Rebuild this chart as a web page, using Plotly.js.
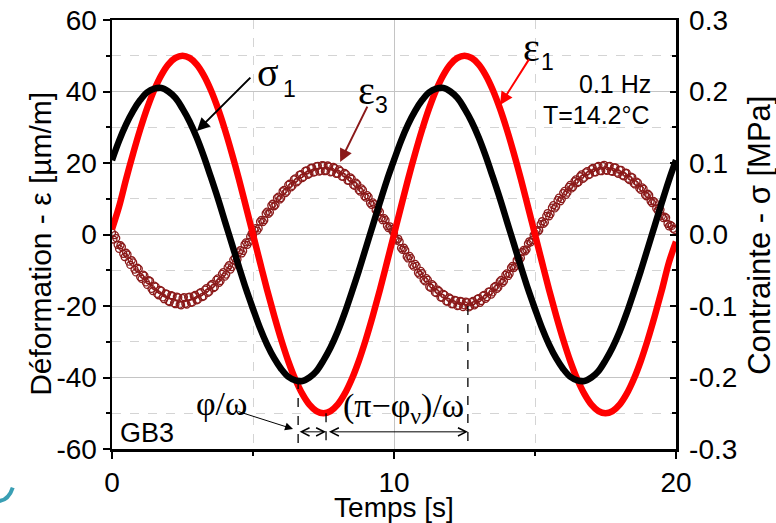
<!DOCTYPE html>
<html>
<head>
<meta charset="utf-8">
<script src="https://cdn.plot.ly/plotly-3.0.1.min.js"></script>
<style>
html,body{margin:0;padding:0;background:#fff;}
#chart{width:776px;height:523px;}
</style>
</head>
<body>
<div id="chart"></div>
<script>
// ---------- data ----------
// time sampling (s)
const LINE_T0 = 0, LINE_DT = 0.25;     // sigma1 and eps1 samples
const E3A_T0 = 0, E3B_T0 = 0.05, E3_DT = 0.1;   // eps3 samples (two interleaved sets)

// eps1 (µm/m), left axis
const eps1 = [1.5, 7.8, 15.5, 22.7, 29.4, 35.4, 40.5, 44.6, 47.6, 49.4, 50.0,
  49.4, 47.6, 44.6, 40.5, 35.4, 29.4, 22.7, 15.5, 7.8, 0.0,
  -7.8, -15.5, -22.7, -29.4, -35.4, -40.5, -44.6, -47.6, -49.4, -50.0,
  -49.4, -47.6, -44.6, -40.5, -35.4, -29.4, -22.7, -15.5, -7.8, 0.0,
  7.8, 15.5, 22.7, 29.4, 35.4, 40.5, 44.6, 47.6, 49.4, 50.0,
  49.4, 47.6, 44.6, 40.5, 35.4, 29.4, 22.7, 15.5, 7.8, 0.0,
  -7.8, -15.5, -22.7, -29.4, -35.4, -40.5, -44.6, -47.6, -49.4, -50.0,
  -49.4, -47.6, -44.6, -40.5, -35.4, -29.4, -22.7, -15.5, -7.8, -2.0];

// sigma1 (MPa), right axis
const sigma1 = [0.104, 0.131, 0.154, 0.173, 0.188, 0.199, 0.204, 0.205, 0.200, 0.191,
  0.176, 0.158, 0.136, 0.110, 0.081, 0.051, 0.019, -0.013, -0.045, -0.076,
  -0.104, -0.131, -0.154, -0.173, -0.188, -0.199, -0.204, -0.205, -0.200, -0.191,
  -0.176, -0.158, -0.136, -0.110, -0.081, -0.051, -0.019, 0.013, 0.045, 0.076,
  0.104, 0.131, 0.154, 0.173, 0.188, 0.199, 0.204, 0.205, 0.200, 0.191,
  0.176, 0.158, 0.136, 0.110, 0.081, 0.051, 0.019, -0.013, -0.045, -0.076,
  -0.104, -0.131, -0.154, -0.173, -0.188, -0.199, -0.204, -0.205, -0.200, -0.191,
  -0.176, -0.158, -0.136, -0.110, -0.081, -0.051, -0.019, 0.013, 0.045, 0.076,
  0.104];

// eps3 (µm/m), left axis, samples at 0.0, 0.1, ... s
const eps3a = [0.5, -0.2, -2.9, -3.0, -5.4, -5.1, -7.6, -7.2, -9.8, -9.3,
  -11.9, -11.2, -13.4, -12.8, -15.2, -14.3, -16.6, -15.5, -17.6, -16.5,
  -18.7, -17.0, -19.2, -17.4, -19.6, -17.8, -19.4, -17.5, -19.1, -17.2,
  -18.4, -16.4, -17.5, -15.4, -16.3, -14.2, -15.0, -12.7, -13.5, -11.0,
  -11.8, -9.2, -9.8, -7.1, -7.5, -5.0, -5.3, -2.8, -2.9, -0.6,
  -0.3, 1.8, 1.7, 4.1, 4.0, 6.4, 6.2, 8.6, 8.3, 10.6,
  10.2, 12.5, 12.0, 14.2, 13.6, 15.7, 15.0, 16.9, 16.1, 17.9,
  17.0, 18.7, 17.5, 19.2, 17.8, 19.3, 17.9, 19.0, 17.5, 18.6,
  17.0, 17.8, 16.1, 16.9, 15.0, 15.6, 13.6, 14.1, 12.0, 12.4,
  10.3, 10.5, 8.3, 8.5, 6.2, 6.3, 4.0, 4.0, 1.8, 1.6,
  0.4, -1.7, -2.0, -4.3, -4.4, -6.7, -6.6, -9.0, -8.8, -11.2,
  -10.8, -13.1, -12.7, -14.9, -14.3, -16.4, -15.8, -17.7, -16.9, -18.8,
  -17.9, -19.5, -18.4, -19.9, -18.7, -19.8, -19.0, -20.1, -18.6, -19.4,
  -17.8, -18.6, -16.9, -17.5, -15.9, -16.2, -14.4, -14.8, -12.7, -13.0,
  -10.9, -11.0, -8.8, -8.9, -6.6, -6.6, -4.3, -4.2, -1.9, -1.6,
  0.3, 0.8, 2.9, 3.0, 5.2, 5.1, 7.5, 7.3, 9.6, 9.3,
  11.6, 11.1, 13.3, 12.9, 14.9, 14.4, 16.3, 15.6, 17.4, 16.6,
  18.3, 17.4, 18.9, 17.8, 19.2, 18.0, 19.1, 17.7, 18.8, 17.3,
  18.1, 16.5, 17.3, 15.6, 16.2, 14.3, 14.8, 12.9, 13.2, 11.1,
  11.4, 9.3, 9.4, 7.3, 7.3, 5.2, 5.0, 3.0, 2.7, 1.6];

// eps3 (µm/m), samples at 0.05, 0.15, ... s
const eps3b = [-1.4, -1.0, -4.0, -3.5, -6.3, -5.6, -8.5, -7.8, -10.6, -9.6,
  -12.4, -11.5, -14.1, -13.0, -15.8, -14.6, -17.0, -15.7, -18.1, -16.6,
  -18.9, -17.2, -19.5, -17.6, -19.8, -17.5, -19.6, -17.4, -19.0, -16.9,
  -18.2, -16.1, -17.3, -15.0, -16.0, -13.8, -14.7, -12.3, -13.0, -10.5,
  -11.2, -8.6, -9.1, -6.6, -7.0, -4.4, -4.6, -2.2, -2.1, 0.2,
  1.3, 1.1, 3.6, 3.5, 5.9, 5.8, 8.1, 7.9, 10.2, 9.8,
  12.1, 11.6, 13.9, 13.2, 15.4, 14.6, 16.7, 15.8, 17.8, 16.7,
  18.6, 17.3, 19.1, 17.6, 19.4, 17.7, 19.3, 17.4, 18.9, 17.0,
  18.2, 16.2, 17.2, 15.1, 16.0, 13.9, 14.5, 12.4, 12.9, 10.7,
  11.0, 8.8, 9.0, 6.8, 6.9, 4.6, 4.6, 2.4, 2.3, 0.9,
  -1.3, -1.2, -3.8, -3.7, -6.2, -6.0, -8.5, -8.2, -10.7, -10.2,
  -12.7, -12.2, -14.6, -13.9, -16.2, -15.4, -17.6, -16.6, -18.7, -17.6,
  -19.5, -18.3, -20.0, -18.6, -20.3, -18.8, -20.4, -18.9, -19.8, -18.0,
  -19.1, -17.1, -18.0, -16.0, -16.8, -14.7, -15.2, -13.1, -13.5, -11.3,
  -11.6, -9.3, -9.4, -7.2, -7.1, -4.9, -4.7, -2.6, -2.2, -0.2,
  1.2, 1.2, 3.7, 3.4, 6.0, 5.7, 8.2, 7.8, 10.3, 9.9,
  12.2, 11.7, 13.9, 13.3, 15.4, 14.7, 16.8, 15.9, 17.7, 16.8,
  18.6, 17.4, 19.2, 17.7, 19.5, 17.8, 19.2, 17.5, 18.8, 17.0,
  18.1, 16.3, 17.2, 15.2, 16.0, 14.0, 14.5, 12.5, 12.8, 10.7,
  11.0, 8.8, 9.0, 6.7, 6.9, 4.6, 4.7, 2.3, 2.4, 1.3];

// tick labels
const xTickVals = [0, 10, 20];
const xTickText = ['0', '10', '20'];
const yTickVals = [-60, -40, -20, 0, 20, 40, 60];
const yTickText = ['-60', '-40', '-20', '0', '20', '40', '60'];
const y2TickVals = [-0.3, -0.2, -0.1, 0, 0.1, 0.2, 0.3];
const y2TickText = ['-0.3', '-0.2', '-0.1', '0.0', '0.1', '0.2', '0.3'];

// axis titles
const xTitle = 'Temps [s]';
const yTitle = 'Déformation - ε [µm/m]';
const y2Title = 'Contrainte - σ [MPa]';

// phase markers (s): sigma1 min, eps1 min, eps3 min, with the curve values there
const tSigmaMin = 6.6, tEps1Min = 7.59, tEps3Min = 12.62;
const vSigmaMin = -40.7, vEps1Min = -50, vEps3Min = -20;

// ---------- drawing ----------
const SANS = 'Liberation Sans, Arial, sans-serif';
const SERIF = 'Liberation Serif, Times New Roman, serif';
const DARKRED = '#8b1a1a';
const e3Marker = {symbol: 'circle-open', size: 7, color: DARKRED, line: {width: 1.3, color: DARKRED}};

const traces = [
  {type: 'scatter', mode: 'markers', name: 'ε3', x0: E3A_T0, dx: E3_DT, y: eps3a, marker: e3Marker, xaxis: 'x', yaxis: 'y'},
  {type: 'scatter', mode: 'markers', name: 'ε3', x0: E3B_T0, dx: E3_DT, y: eps3b, marker: e3Marker, xaxis: 'x', yaxis: 'y'},
  {type: 'scatter', mode: 'lines', name: 'σ1', x0: LINE_T0, dx: LINE_DT, y: sigma1,
   line: {color: '#000', width: 6.5, shape: 'spline'}, xaxis: 'x', yaxis: 'y2'},
  {type: 'scatter', mode: 'lines', name: 'ε1', x0: LINE_T0, dx: LINE_DT, y: eps1,
   line: {color: '#ff0000', width: 6.5, shape: 'spline'}, xaxis: 'x', yaxis: 'y'}
];

const gridMinor = {showgrid: true, griddash: 'dash', gridcolor: '#d4d4d4', gridwidth: 1};

const layout = {
  width: 776, height: 523,
  margin: {l: 112, r: 100, t: 20, b: 74},
  paper_bgcolor: '#fff', plot_bgcolor: '#fff',
  showlegend: false,
  font: {family: SANS, color: '#000', size: 28},
  xaxis: {
    range: [0, 20], tickmode: 'array', tickvals: xTickVals, ticktext: xTickText,
    ticks: 'outside', ticklen: 7, tickwidth: 2, tickcolor: '#000',
    showline: true, linecolor: '#000', linewidth: 2.5, mirror: true,
    showgrid: true, gridcolor: '#c4c4c4', gridwidth: 1, zeroline: false,
    tickfont: {size: 28, family: SANS},
    minor: Object.assign({tickmode: 'linear', tick0: 0, dtick: 5, ticks: 'outside', ticklen: 4, tickwidth: 2, tickcolor: '#000'}, gridMinor),
    title: {text: xTitle, font: {size: 28, family: SANS}, standoff: 0},
    automargin: false
  },
  yaxis: {
    range: [-60, 60], tickmode: 'array', tickvals: yTickVals, ticktext: yTickText,
    ticks: 'outside', ticklen: 7, tickwidth: 2, tickcolor: '#000',
    showline: true, linecolor: '#000', linewidth: 2.5,
    showgrid: true, gridcolor: '#c4c4c4', gridwidth: 1, zeroline: false,
    tickfont: {size: 28, family: SANS},
    minor: Object.assign({tickmode: 'linear', tick0: 0, dtick: 10, ticks: 'outside', ticklen: 4, tickwidth: 2, tickcolor: '#000'}, gridMinor),
    automargin: false
  },
  yaxis2: {
    overlaying: 'y', side: 'right',
    range: [-0.3, 0.3], tickmode: 'array', tickvals: y2TickVals, ticktext: y2TickText,
    ticks: 'inside', ticklen: 6, tickwidth: 2, tickcolor: '#000',
    showline: true, linecolor: '#000', linewidth: 2.5,
    showgrid: false, zeroline: false,
    tickfont: {size: 28, family: SANS},
    ticklabelstandoff: 5,
    minor: {tickmode: 'linear', tick0: 0, dtick: 0.05, ticks: 'inside', ticklen: 4, tickwidth: 2, tickcolor: '#000', showgrid: false},
    automargin: false
  },
  shapes: [
    {type: 'line', xref: 'x', yref: 'y', x0: tSigmaMin, x1: tSigmaMin, y0: vSigmaMin, y1: -60, line: {color: '#000', width: 1.3, dash: 'dash'}},
    {type: 'line', xref: 'x', yref: 'y', x0: tEps1Min, x1: tEps1Min, y0: vEps1Min, y1: -60, line: {color: '#000', width: 1.3, dash: 'dash'}},
    {type: 'line', xref: 'x', yref: 'y', x0: tEps3Min, x1: tEps3Min, y0: vEps3Min, y1: -60, line: {color: '#000', width: 1.3, dash: 'dash'}},
    // teal slide decoration at the bottom-left corner
    {type: 'path', xref: 'paper', yref: 'paper', path: 'M -0.199,-0.121 Q -0.183,-0.118 -0.176,-0.090',
     line: {color: '#3a9fb4', width: 4}}
  ],
  annotations: [
    // y axis titles
    {xref: 'paper', yref: 'paper', x: -0.126, y: 0.478, textangle: -90, text: yTitle, showarrow: false,
     xanchor: 'center', yanchor: 'middle', font: {family: SANS, size: 30, color: '#000'}},
    {xref: 'paper', yref: 'paper', x: 1.149, y: 0.497, textangle: -90, text: y2Title, showarrow: false,
     xanchor: 'center', yanchor: 'middle', font: {family: SANS, size: 31, color: '#000'}},
    // series labels
    {x: 5.53, y: 45.2, xref: 'x', yref: 'y', text: 'σ', showarrow: false, font: {family: SERIF, size: 40, color: '#000'}},
    {x: 6.31, y: 40.7, xref: 'x', yref: 'y', text: '1', showarrow: false, font: {family: SANS, size: 23, color: '#000'}},
    {x: 9.01, y: 40.4, xref: 'x', yref: 'y', text: 'ε', showarrow: false, font: {family: SERIF, size: 40, color: '#000'}},
    {x: 9.57, y: 36.2, xref: 'x', yref: 'y', text: '3', showarrow: false, font: {family: SANS, size: 23, color: '#000'}},
    {x: 14.86, y: 52.2, xref: 'x', yref: 'y', text: 'ε', showarrow: false, font: {family: SERIF, size: 40, color: '#000'}},
    {x: 15.46, y: 48.3, xref: 'x', yref: 'y', text: '1', showarrow: false, font: {family: SANS, size: 23, color: '#000'}},
    // label arrows
    {x: 3.01, y: 28.95, ax: 4.96, ay: 44.3, xref: 'x', yref: 'y', axref: 'x', ayref: 'y', text: '', showarrow: true,
     arrowhead: 2, arrowsize: 1.3, arrowwidth: 2, arrowcolor: '#000'},
    {x: 8.09, y: 20.3, ax: 9.08, ay: 36.2, xref: 'x', yref: 'y', axref: 'x', ayref: 'y', text: '', showarrow: true,
     arrowhead: 2, arrowsize: 1.3, arrowwidth: 2, arrowcolor: DARKRED},
    {x: 13.76, y: 36.2, ax: 14.82, ay: 49.4, xref: 'x', yref: 'y', axref: 'x', ayref: 'y', text: '', showarrow: true,
     arrowhead: 2, arrowsize: 1.3, arrowwidth: 2, arrowcolor: '#ff0000'},
    // conditions
    {x: 19.18, y: 42.1, xref: 'x', yref: 'y', xanchor: 'right', text: '0.1 Hz', showarrow: false, font: {family: SANS, size: 25, color: '#000'}},
    {x: 19.15, y: 33.4, xref: 'x', yref: 'y', xanchor: 'right', text: 'T=14.2°C', showarrow: false, font: {family: SANS, size: 25, color: '#000'}},
    {x: 0.21, y: -55.5, xref: 'x', yref: 'y', xanchor: 'left', text: 'GB3', showarrow: false, font: {family: SANS, size: 27, color: '#000'}},
    // phase annotations
    {x: 3.87, y: -47.4, xref: 'x', yref: 'y', text: 'φ/ω', showarrow: false, font: {family: SERIF, size: 34, color: '#000'}},
    {x: 6.42, y: -54.4, ax: 4.43, ay: -49.4, xref: 'x', yref: 'y', axref: 'x', ayref: 'y', text: '', showarrow: true,
     arrowhead: 2, arrowsize: 1.6, arrowwidth: 1, arrowcolor: '#000'},
    {x: 10.35, y: -48.5, xref: 'x', yref: 'y', text: '(π−φ<sub>ν</sub>)/ω', showarrow: false, font: {family: SERIF, size: 34, color: '#000'}},
    {x: tEps1Min, y: -55.2, ax: tSigmaMin, ay: -55.2, xref: 'x', yref: 'y', axref: 'x', ayref: 'y', text: '', showarrow: true,
     arrowhead: 5, startarrowhead: 5, arrowside: 'end+start', arrowsize: 1.6, startarrowsize: 1.6, arrowwidth: 1, arrowcolor: '#000'},
    {x: tEps3Min, y: -55.2, ax: tEps1Min + 0.05, ay: -55.2, xref: 'x', yref: 'y', axref: 'x', ayref: 'y', text: '', showarrow: true,
     arrowhead: 5, startarrowhead: 5, arrowside: 'end+start', arrowsize: 1.6, startarrowsize: 1.6, arrowwidth: 1, arrowcolor: '#000'}
  ]
};

Plotly.newPlot('chart', traces, layout, {displayModeBar: false, staticPlot: true});
</script>
</body>
</html>
